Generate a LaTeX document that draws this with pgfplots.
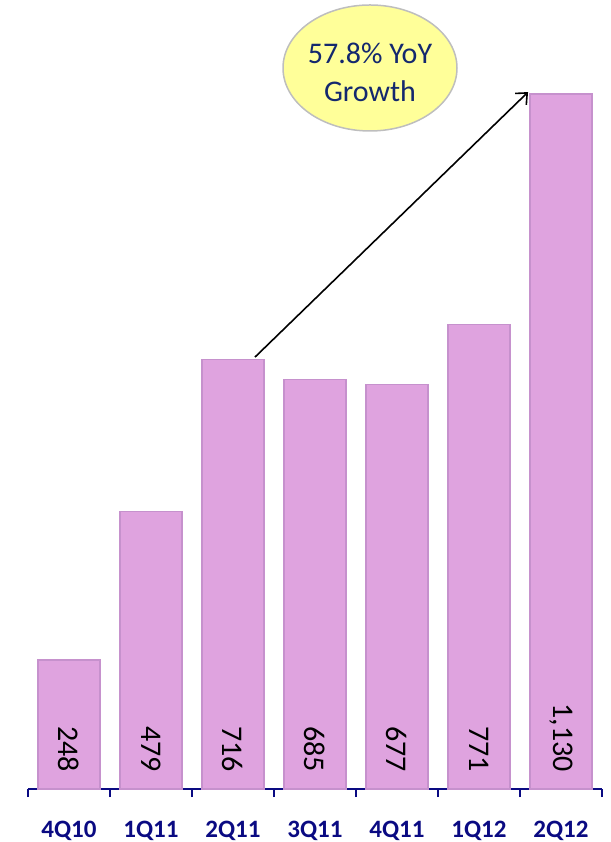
\documentclass[border=0pt]{standalone}
\usepackage{pgfplots}
\pgfplotsset{compat=1.18}
\usepackage{pgfplotstable}
\usepackage{fontspec}
\setmainfont{Carlito}
\usetikzlibrary{arrows.meta}
\definecolor{navyc}{RGB}{10,10,130}
\definecolor{txtblue}{RGB}{20,40,110}
\definecolor{barfill}{RGB}{223,163,223}
\definecolor{baredge}{RGB}{198,145,205}
\definecolor{ellfill}{RGB}{255,255,153}
\definecolor{elledge}{RGB}{190,190,190}

\pgfplotstableread{
x val
0 248
1 479
2 716
3 685
4 677
5 771
6 1130
}\bardata

\pgfplotstableread{
x pos label
0 73.4 248
1 73.4 479
2 73.4 716
3 73.4 685
4 73.4 677
5 73.4 771
6 73.4 1,130
}\labeldata

\begin{document}
\begin{tikzpicture}
\begin{axis}[
  at={(0,0)}, anchor=south west,
  scale only axis, width=574pt, height=789pt,
  xmin=-0.5, xmax=6.5, ymin=47, ymax=1276.5,
  axis y line=none, axis x line*=bottom,
  x axis line style={draw=navyc, line width=1.5pt},
  xtick={0,...,6},
  xticklabels={4Q10,1Q11,2Q11,3Q11,4Q11,1Q12,2Q12},
  major tick length=0pt,
  xticklabel style={anchor=base, yshift=-48pt, font=\fontsize{25}{29}\selectfont\bfseries, text=navyc},
  extra x ticks={-0.5,0.5,1.5,2.5,3.5,4.5,5.5,6.5},
  extra x tick labels={},
  extra x tick style={major tick length=8pt, tick align=outside, tick style={draw=navyc, line width=1.5pt}},
  clip=true,
]
\addplot[ybar, bar width=62pt, bar shift=0pt, fill=barfill, draw=baredge, line width=1.2pt]
  table[x=x, y=val] {\bardata};
\addplot[draw=none, mark=none, nodes near coords, point meta=explicit symbolic,
  nodes near coords style={anchor=east, rotate=-90, inner sep=0pt, text=black, font=\fontsize{30}{36}\selectfont}]
  table[x=x, y=pos, meta=label] {\labeldata};
\draw[black, line width=1.6pt, -{Straight Barb[length=9pt, width=16pt, line width=1.6pt]}]
  (axis cs:2.268,720) -- (axis cs:5.598,1133);
\end{axis}
\draw[fill=ellfill, draw=elledge, line width=1.5pt] (342pt,721pt) ellipse [x radius=87pt, y radius=63pt];
\node[text=txtblue, font=\fontsize{30}{36}\selectfont, anchor=base, inner sep=0pt] at (342pt,725pt) {57.8\% YoY};
\node[text=txtblue, font=\fontsize{30}{36}\selectfont, anchor=base, inner sep=0pt] at (342pt,687pt) {Growth};
\pgfresetboundingbox
\useasboundingbox (-28pt,-53pt) rectangle (582pt,789pt);
\end{tikzpicture}
\end{document}
